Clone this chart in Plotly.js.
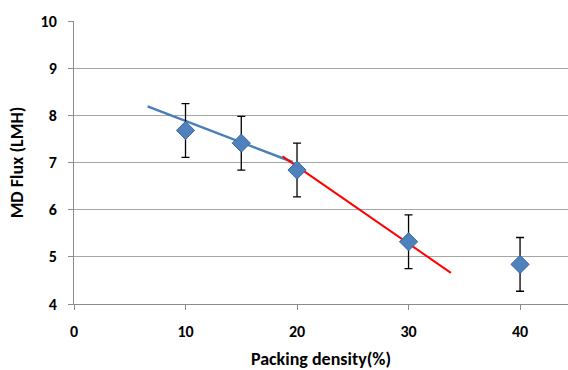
<!DOCTYPE html>
<html>
<head>
<meta charset="utf-8">
<script src="https://cdn.plot.ly/plotly-3.0.1.min.js"></script>
<style>html,body{margin:0;padding:0;background:#fff;}#chart{width:568px;height:370px;}</style>
</head>
<body>
<div id="chart"></div>
<script>
var packingDensity = [10, 15, 20, 30, 40];
var mdFlux = [7.68, 7.41, 6.84, 5.32, 4.84];
var fluxError = [0.57, 0.57, 0.57, 0.57, 0.57];
var blueTrendX = [6.6, 19.6];
var blueTrendY = [8.19, 7.01];
var redTrendX = [18.7, 33.8];
var redTrendY = [7.13, 4.66];
var xTickVals = [0, 10, 20, 30, 40];
var yTickVals = [4, 5, 6, 7, 8, 9, 10];

var fontFam = 'Carlito, Calibri, Lato, sans-serif';

var traces = [
  {x: blueTrendX, y: blueTrendY, mode: 'lines', line: {color: '#4a7ebb', width: 2.5}, hoverinfo: 'skip'},
  {x: redTrendX, y: redTrendY, mode: 'lines', line: {color: '#ff0000', width: 2}, hoverinfo: 'skip'},
  {x: packingDensity, y: mdFlux, mode: 'markers',
   marker: {symbol: 'diamond', size: 14, color: '#4f81bd', line: {color: '#3a689f', width: 1}},
   error_y: {type: 'data', array: fluxError, visible: true, color: '#000000', thickness: 1.3, width: 4}}
];

var layout = {
  width: 568, height: 370,
  margin: {l: 73.5, r: 0, t: 20.7, b: 66},
  paper_bgcolor: '#ffffff', plot_bgcolor: '#ffffff',
  showlegend: false,
  font: {family: fontFam, size: 16, color: '#000000', weight: 'bold'},
  xaxis: {
    range: [0, 44.3], tickvals: xTickVals, ticktext: xTickVals.map(function(v){return '<b>' + v + '</b>';}),
    showgrid: false, zeroline: false,
    showline: true, linecolor: '#8c8c8c', linewidth: 1,
    ticks: 'outside', ticklen: 5, tickcolor: '#8c8c8c',
    ticklabelstandoff: 8,
    tickfont: {family: fontFam, size: 16, color: '#000', weight: 'bold'},
    title: {text: '<b>Packing density(%)</b>', font: {family: fontFam, size: 18, color: '#000'}, standoff: 12}
  },
  yaxis: {
    range: [4, 10], tickvals: yTickVals, ticktext: yTickVals.map(function(v){return '<b>' + v + '</b>';}),
    showgrid: true, gridcolor: '#a6a6a6', gridwidth: 1, zeroline: false,
    showline: true, linecolor: '#8c8c8c', linewidth: 1,
    ticks: 'outside', ticklen: 5, tickcolor: '#8c8c8c',
    ticklabelstandoff: 8,
    tickfont: {family: fontFam, size: 16, color: '#000', weight: 'bold'},
    title: {text: '<b>MD Flux (LMH)</b>', font: {family: fontFam, size: 18, color: '#000'}, standoff: 12}
  }
};

Plotly.newPlot('chart', traces, layout, {displayModeBar: false, staticPlot: true});
</script>
</body>
</html>
